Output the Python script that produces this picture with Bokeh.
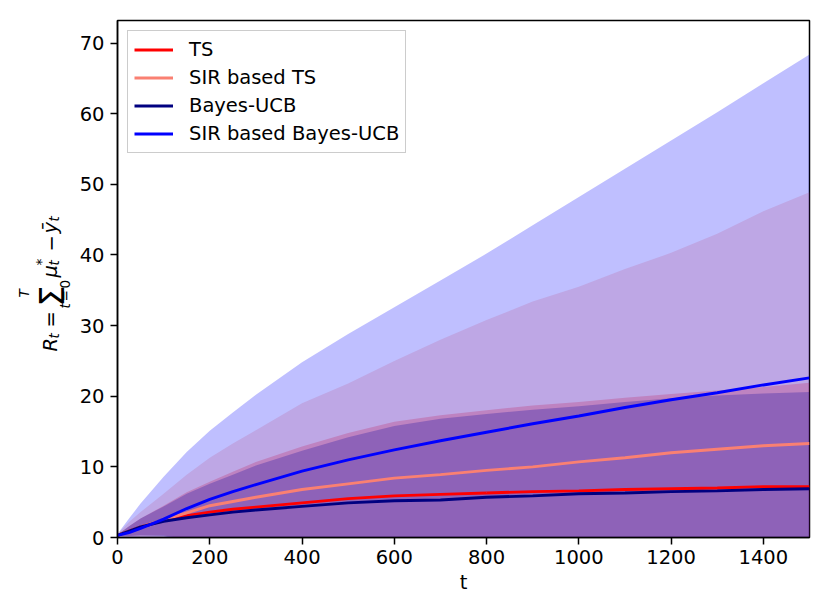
import numpy as np
from bokeh.plotting import figure
from bokeh.layouts import row
from bokeh.models import Legend, LegendItem, Label, Range1d, FixedTicker
from bokeh.embed import file_html
from bokeh.resources import INLINE

# ---- data ----
t = [0, 25, 50, 100, 150, 200, 250, 300, 400, 500, 600, 700, 800, 900, 1000, 1100, 1200, 1300, 1400, 1500]

ts_mean = [0.3, 0.9, 1.5, 2.4, 3.1, 3.6, 4.0, 4.3, 4.9, 5.5, 5.9, 6.1, 6.3, 6.5, 6.6, 6.8, 6.9, 7.0, 7.2, 7.2]
ts_upper = [0.4, 1.6, 2.7, 4.5, 6.4, 7.9, 9.3, 10.7, 12.9, 14.8, 16.4, 17.3, 18.0, 18.7, 19.2, 19.8, 20.3, 20.8, 21.3, 21.9]

sir_ts_mean = [0.3, 0.9, 1.5, 2.5, 3.5, 4.5, 5.1, 5.7, 6.8, 7.6, 8.4, 8.9, 9.5, 10.0, 10.7, 11.3, 12.0, 12.5, 13.0, 13.3]
sir_ts_upper = [0.5, 2.2, 3.6, 6.2, 8.9, 11.3, 13.3, 15.2, 19.0, 21.8, 25.0, 28.0, 30.8, 33.4, 35.5, 38.0, 40.3, 43.0, 46.2, 48.9]

bucb_mean = [0.3, 0.9, 1.5, 2.3, 2.8, 3.2, 3.6, 3.9, 4.4, 4.9, 5.2, 5.3, 5.7, 5.9, 6.2, 6.3, 6.5, 6.6, 6.8, 6.9]
bucb_upper = [0.4, 1.6, 2.7, 4.4, 6.2, 7.6, 8.9, 10.2, 12.3, 14.2, 15.8, 16.8, 17.5, 18.1, 18.6, 19.2, 19.7, 20.1, 20.4, 20.6]

sir_bucb_mean = [0.3, 0.7, 1.3, 2.6, 4.1, 5.4, 6.5, 7.5, 9.4, 11.0, 12.4, 13.7, 14.9, 16.1, 17.2, 18.4, 19.5, 20.5, 21.6, 22.6]
sir_bucb_upper = [0.5, 2.7, 4.8, 8.6, 12.1, 15.1, 17.7, 20.2, 24.8, 28.8, 32.6, 36.4, 40.2, 44.2, 48.2, 52.2, 56.2, 60.2, 64.3, 68.4]

labels = ["TS", "SIR based TS", "Bayes-UCB", "SIR based Bayes-UCB"]
colors = ["red", "salmon", "navy", "blue"]
means = [ts_mean, sir_ts_mean, bucb_mean, sir_bucb_mean]
uppers = [ts_upper, sir_ts_upper, bucb_upper, sir_bucb_upper]

x_ticks = [0, 200, 400, 600, 800, 1000, 1200, 1400]
y_ticks = [0, 10, 20, 30, 40, 50, 60, 70]

FONT = "DejaVu Sans"
FS = "19.5px"
XMAX, YMAX = 1500, 73.2
W, H = 822, 602
FT, FB = 20, 537     # frame top / bottom in page pixels
WL = 74              # width of the strip that holds the y-axis title

p = figure(width=W - WL, height=H, output_backend="svg", toolbar_location=None,
           x_range=Range1d(0, XMAX), y_range=Range1d(0, YMAX),
           min_border_left=117 - WL, min_border_right=13, min_border_top=FT, min_border_bottom=H - FB)
p.xgrid.visible = False
p.ygrid.visible = False
p.outline_line_color = "black"
p.outline_line_width = 1.5
p.outline_line_alpha = 1.0
p.background_fill_color = "white"
p.border_fill_color = "white"

for m, u, c in zip(means, uppers, colors):
    m = np.array(m)
    u = np.array(u)
    lo = m - (u - m)
    p.varea(x=t, y1=lo, y2=u, fill_color=c, fill_alpha=0.25)

items = []
for m, c, lab in zip(means, colors, labels):
    r = p.line(t, m, line_color=c, line_width=2.9)
    items.append(LegendItem(label=lab, renderers=[r]))

for ax in (p.xaxis[0], p.yaxis[0]):
    ax.axis_line_color = "black"
    ax.axis_line_width = 1.5
    ax.major_tick_line_color = "black"
    ax.major_tick_line_width = 1.5
    ax.major_tick_out = 7
    ax.major_tick_in = 0
    ax.minor_tick_out = 0
    ax.minor_tick_in = 0
    ax.major_label_text_font = FONT
    ax.major_label_text_font_size = FS
    ax.major_label_text_color = "black"

p.xaxis[0].ticker = FixedTicker(ticks=x_ticks)
p.yaxis[0].ticker = FixedTicker(ticks=y_ticks)
p.xaxis[0].major_label_standoff = 5
p.yaxis[0].major_label_standoff = 6
p.xaxis[0].axis_label = "t"
p.xaxis[0].axis_label_text_font = FONT
p.xaxis[0].axis_label_text_font_size = FS
p.xaxis[0].axis_label_text_font_style = "normal"
p.xaxis[0].axis_label_text_color = "black"
p.xaxis[0].axis_label_standoff = 4

legend = Legend(items=items, location="top_left", margin=10, padding=6, spacing=3,
                glyph_height=25, label_height=25, glyph_width=39, label_standoff=16,
                label_text_font=FONT, label_text_font_size=FS, label_text_color="black",
                border_line_color="#cccccc", border_line_width=1, border_line_alpha=1.0,
                background_fill_color="white", background_fill_alpha=0.8)
p.add_layout(legend)

# strip on the left holding the math y-axis title; its frame is aligned with p's frame
lf = figure(width=WL, height=H, output_backend="svg", toolbar_location=None,
            x_range=Range1d(0, WL), y_range=Range1d(0, FB - FT),
            x_axis_location=None, y_axis_location=None,
            min_border=0, min_border_left=0, min_border_right=0,
            min_border_top=FT, min_border_bottom=H - FB)
lf.xgrid.visible = False
lf.ygrid.visible = False
lf.outline_line_color = None
lf.background_fill_color = "white"
lf.border_fill_color = "white"

def piece(txt, X, Y, size, style="normal"):
    lf.add_layout(Label(x=X, y=FB - Y, text=txt,
                        angle=np.pi / 2, text_align="left", text_baseline="alphabetic",
                        text_font=FONT, text_font_size=size, text_font_style=style,
                        text_color="black"))

SUB = "13.6px"
piece("R", 50, 351, FS, "italic")
piece("t", 53.5, 338, SUB, "italic")
piece("=", 50, 327, FS)
piece("\u03a3", 52, 306, "33px")
piece("T", 23, 297, SUB, "italic")
piece("t", 64, 308, SUB, "italic")
piece("=", 64, 301, SUB)
piece("0", 64, 288, SUB)
piece("\u03bc", 50, 277, FS, "italic")
piece("t", 53.5, 265, SUB, "italic")
piece("*", 40, 265, SUB)
piece("\u2212", 50, 251, FS)
piece("\u0233", 50, 233, FS, "italic")
piece("t", 53.5, 221, SUB, "italic")

layout = row(lf, p, spacing=0)
open("out.html", "w").write(file_html(layout, INLINE))
